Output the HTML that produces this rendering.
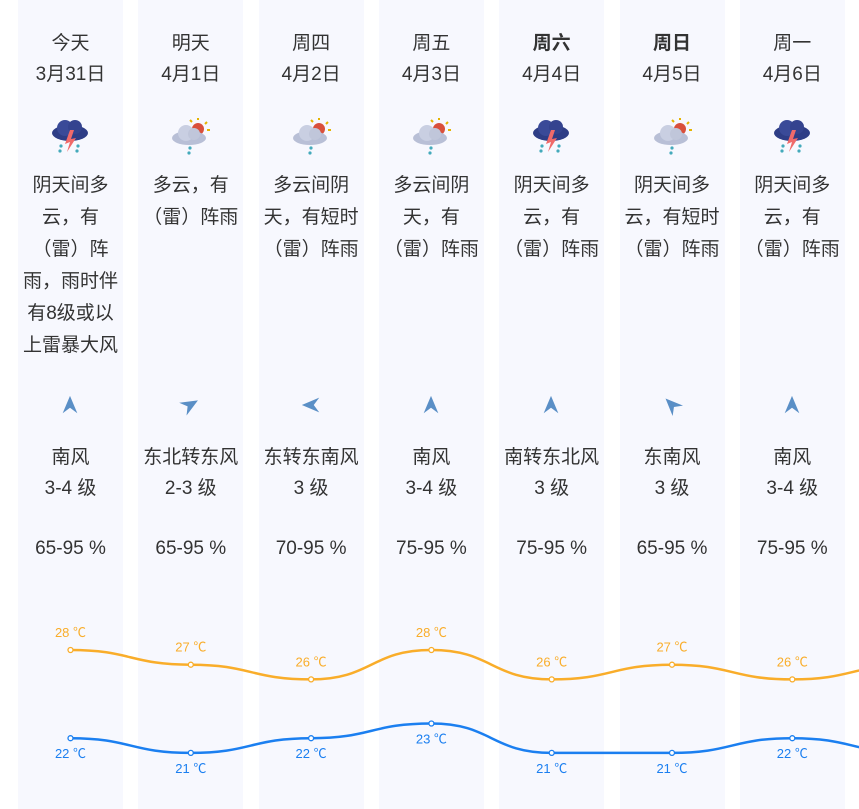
<!DOCTYPE html>
<html><head><meta charset="utf-8"><style>
body{margin:0;width:859px;height:809px;overflow:hidden;background:#fff;font-family:"Liberation Sans","Noto Sans CJK SC",sans-serif;color:#333;position:relative}
.col{position:absolute;top:0;width:105px;height:809px;background:#f7f8fe;text-align:center}
.t{position:absolute;left:0;width:105px;font-size:19px;line-height:31px}
.icon{position:absolute;left:30px;top:116px;width:45px;height:45px}
.arrow{position:absolute;left:41px;top:394px;width:22px;height:22px}
svg#chart{position:absolute;left:0;top:0}
</style></head><body>
<div id="cols"></div>
<svg id="chart" width="859" height="809"></svg>
<script>
const days=["今天","明天","周四","周五","周六","周日","周一"];
const dates=["3月31日","4月1日","4月2日","4月3日","4月4日","4月5日","4月6日"];
const descs=[["阴天间多","云，有","（雷）阵","雨，雨时伴","有8级或以","上雷暴大风"],["多云，有","（雷）阵雨"],["多云间阴","天，有短时","（雷）阵雨"],["多云间阴","天，有","（雷）阵雨"],["阴天间多","云，有","（雷）阵雨"],["阴天间多","云，有短时","（雷）阵雨"],["阴天间多","云，有","（雷）阵雨"]];
const iconTypes=["storm","sun","sun","sun","storm","sun","storm"];
const winds=["南风","东北转东风","东转东南风","南风","南转东北风","东南风","南风"];
const windLevels=["3-4 级","2-3 级","3 级","3-4 级","3 级","3 级","3-4 级"];
const windAngles=[0,60,-90,0,0,-45,0];
const humidity=["65-95 %","65-95 %","70-95 %","75-95 %","75-95 %","65-95 %","75-95 %"];
const highs=[28,27,26,28,26,27,26,27];
const lows=[22,21,22,23,21,21,22,21];
const colX=i=>18+i*120.3;
const cx=i=>colX(i)+52.5;
const ty=t=>650+(28-t)*14.7;
const cols=document.getElementById('cols');
const stormSvg='<svg viewBox="0 0 45 45" width="45" height="45"><ellipse cx="22" cy="17" rx="18" ry="8" fill="#2e3d86"/><circle cx="17" cy="12" r="8" fill="#3a4a98"/><circle cx="27" cy="11" r="7" fill="#34438f"/><polygon points="22,14 17,28 22,26 19,36 28,22 23,23 26,14" fill="#f06a6a"/><circle cx="13" cy="30" r="1.6" fill="#4ab"/><circle cx="30" cy="30" r="1.6" fill="#4ab"/><circle cx="12" cy="35" r="1.6" fill="#4ab"/><circle cx="29" cy="35" r="1.6" fill="#4ab"/></svg>';
const sunSvg='<svg viewBox="0 0 45 45" width="45" height="45"><circle cx="30" cy="13" r="6" fill="#d9503c"/><g stroke="#e5b400" stroke-width="2"><line x1="30" y1="2" x2="30" y2="4"/><line x1="39" y1="6" x2="37" y2="8"/><line x1="42" y1="14" x2="39" y2="14"/><line x1="22" y1="4" x2="24" y2="6"/></g><ellipse cx="21" cy="22" rx="17" ry="7" fill="#b8bfd6"/><circle cx="18" cy="17" r="8" fill="#c9cfe2"/><circle cx="26" cy="18" r="6" fill="#c0c6da"/><circle cx="22" cy="32" r="1.6" fill="#4ab"/><circle cx="21" cy="37" r="1.6" fill="#4ab"/></svg>';
for(let i=0;i<7;i++){
 const c=document.createElement('div');c.className='col';c.style.left=colX(i)+'px';
 
 
 const bold=(i==4||i==5)?'font-weight:bold;':'';
 let h=`<div class="t" style="top:28px;${bold}">${days[i]}</div>`;
 h+=`<div class="t" style="top:59px">${dates[i]}</div>`;
 h+=`<div class="icon">${iconTypes[i]=='storm'?stormSvg:sunSvg}</div>`;
 descs[i].forEach((d,k)=>{h+=`<div class="t" style="top:${170+k*32}px;font-size:19px;white-space:nowrap;left:-5px;width:115px">${d}</div>`});
 h+=`<div class="arrow"><svg width="22" height="22" viewBox="0 0 24 24" style="transform:rotate(${windAngles[i]}deg)"><polygon points="12,2 20,21 12,15 4,21" fill="#5a8fc6"/></svg></div>`;
 h+=`<div class="t" style="top:442px;white-space:nowrap;left:-8px;width:121px">${winds[i]}</div>`;
 h+=`<div class="t" style="top:473px">${windLevels[i]}</div>`;
 h+=`<div class="t" style="top:533px">${humidity[i]}</div>`;
 c.innerHTML=h;cols.appendChild(c);
}
const svg=document.getElementById('chart');const NS='http://www.w3.org/2000/svg';
function path(vals,color,name){
 const pts=vals.map((v,i)=>[cx(i),ty(v)]);
 let d=`M${pts[0][0]},${pts[0][1]}`;
 for(let i=0;i<pts.length-1;i++){const [x0,y0]=pts[i],[x1,y1]=pts[i+1];const mx=(x0+x1)/2;d+=` C${mx},${y0} ${mx},${y1} ${x1},${y1}`;}
 const p=document.createElementNS(NS,'path');p.setAttribute('d',d);p.setAttribute('fill','none');p.setAttribute('stroke',color);p.setAttribute('stroke-width','2.5');
 
 
 svg.appendChild(p);
}
function points(vals,color,above,name){
 for(let i=0;i<7;i++){
  const c=document.createElementNS(NS,'circle');c.setAttribute('cx',cx(i));c.setAttribute('cy',ty(vals[i]));c.setAttribute('r','2.5');c.setAttribute('fill','#fff');c.setAttribute('stroke',color);c.setAttribute('stroke-width','1.3');
  
  
  svg.appendChild(c);
  const t=document.createElementNS(NS,'text');t.setAttribute('x',cx(i));t.setAttribute('y',ty(vals[i])+(above?-13:20));t.setAttribute('text-anchor','middle');t.setAttribute('font-size','13');t.setAttribute('fill',color);t.textContent=vals[i]+' ℃';
  
  
  svg.appendChild(t);
 }
}
path(highs,'#f9ad2a','high-temp-line');path(lows,'#1b7ff0','low-temp-line');
points(highs,'#f9ad2a',true,'high-temp');points(lows,'#1b7ff0',false,'low-temp');
</script>
</body></html>
